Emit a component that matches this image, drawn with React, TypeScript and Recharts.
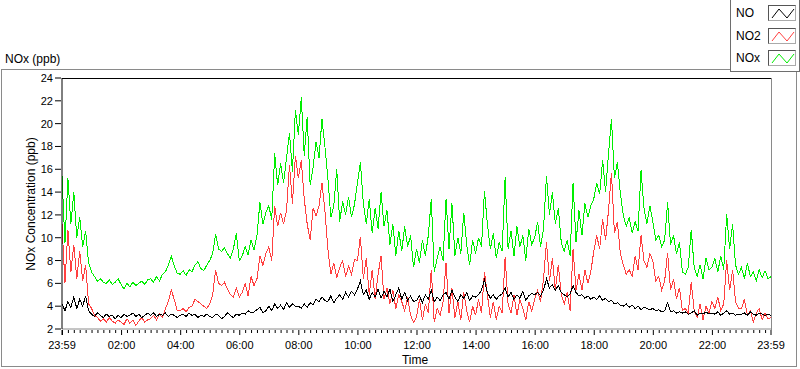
import { LineChart, Line, XAxis, YAxis } from 'recharts';

// minutes after 23:59, one reading every 6 minutes
const minutes = Array.from({ length: 241 }, (_, i) => i * 6);

const noxValues = [
  15.4, 9.5, 15.2, 11.2, 14.0, 10.0, 11.8, 9.2, 10.6, 7.8,
  7.0, 6.6, 6.2, 6.4, 6.1, 6.0, 6.3, 5.9, 6.1, 6.4,
  5.9, 5.5, 6.0, 5.7, 6.1, 5.8, 6.0, 6.2, 5.9, 6.3,
  6.4, 6.1, 6.6, 6.2, 6.8, 7.0, 7.6, 8.4, 7.5, 6.9,
  6.8, 7.1, 6.7, 7.2, 7.0, 7.6, 7.9, 7.3, 7.1, 7.6,
  8.0, 8.6, 10.3, 9.0, 8.8, 9.1, 8.6, 8.2, 9.0, 10.4,
  8.0, 8.4, 9.2, 8.5, 9.8, 8.9, 10.2, 13.1, 11.2, 12.2,
  12.8, 11.6, 17.4, 14.6, 16.5, 14.8, 17.0, 19.2, 15.8, 21.2,
  19.0, 22.3, 17.2, 20.6, 14.6, 16.2, 18.4, 17.0, 20.4, 18.0,
  15.2, 11.8, 12.8, 16.0, 11.4, 13.2, 12.0, 13.6, 11.8, 12.9,
  14.8, 16.6, 13.0, 11.2, 13.4, 10.4, 12.6, 10.8, 14.0, 11.0,
  12.4, 9.4, 11.2, 8.4, 10.6, 8.8, 11.0, 9.2, 10.2, 7.4,
  9.0, 7.8, 9.8, 8.4, 10.2, 13.4, 7.0, 8.2, 9.2, 8.0,
  13.4, 9.0, 13.0, 8.4, 10.0, 8.6, 12.2, 9.4, 7.6, 9.8,
  8.6, 10.0, 9.2, 14.1, 11.2, 9.0, 10.4, 8.2, 9.6, 8.8,
  15.3, 9.0, 10.6, 8.4, 11.0, 9.2, 10.2, 8.0, 10.8, 9.4,
  10.0, 11.4, 9.2, 10.8, 15.4, 12.0, 14.0, 11.2, 12.6, 9.6,
  8.8, 9.8, 8.4, 14.8, 9.6, 12.4, 10.2, 13.0, 11.8, 12.8,
  13.4, 14.8, 13.8, 16.8, 14.0, 17.4, 20.4, 15.2, 16.6, 13.9,
  12.0, 11.0, 11.8, 10.4, 11.4, 10.6, 15.9, 12.6, 11.2, 12.8,
  11.4, 9.8, 10.2, 9.2, 9.8, 13.1, 9.4, 10.2, 8.6, 9.6,
  7.0, 6.8, 7.4, 10.7, 7.4, 6.6, 7.6, 6.4, 8.2, 7.2,
  7.4, 8.2, 7.0, 8.4, 7.2, 12.1, 9.0, 11.2, 7.6, 6.8,
  7.4, 6.4, 7.8, 6.6, 7.0, 6.2, 7.2, 6.5, 7.1, 6.4,
  6.6,
];

const no2Values = [
  11.2, 6.0, 10.7, 7.0, 9.4, 6.4, 8.8, 6.2, 7.6, 4.2,
  3.8, 3.2, 3.0, 2.7, 2.9, 2.6, 3.0, 2.7, 2.5, 2.8,
  2.6, 2.4, 2.9, 2.5, 2.8, 2.3, 2.7, 3.0, 2.6, 2.8,
  2.9, 3.2, 2.8, 3.3, 3.0, 3.8, 4.4, 5.4, 4.6, 3.6,
  3.6, 3.8, 3.5, 3.9, 4.0, 4.6, 4.4, 4.2, 4.0, 3.8,
  4.2, 5.0, 7.2, 6.0, 5.8, 6.1, 5.5, 5.0, 4.8, 5.6,
  4.8, 5.2, 6.0, 4.9, 6.6, 5.8, 6.4, 8.4, 7.6, 8.6,
  9.2, 8.0, 12.8, 11.0, 12.2, 11.2, 12.4, 16.4, 13.0, 17.2,
  15.2, 16.8, 13.4, 11.2, 9.8, 12.6, 11.9, 12.8, 14.8, 12.4,
  9.0, 6.8, 7.8, 6.5, 7.4, 8.0, 6.6, 7.5, 6.8, 8.1,
  8.0, 10.1, 6.4, 8.2, 5.0, 7.2, 4.6, 6.8, 8.4, 4.6,
  5.6, 4.2, 5.4, 3.8, 5.0, 4.4, 3.6, 4.8, 3.2, 2.6,
  3.0, 4.6, 2.8, 4.2, 3.4, 7.2, 2.6, 3.8, 3.2, 4.4,
  7.8, 3.4, 5.6, 3.0, 4.4, 2.8, 5.2, 3.6, 2.6, 4.0,
  3.2, 4.6, 3.4, 7.0, 5.0, 3.0, 4.4, 2.8, 4.0, 3.4,
  8.3, 4.2, 3.4, 5.0, 3.2, 4.6, 3.8, 2.8, 4.4, 3.6,
  4.6, 5.4, 4.4, 6.4, 9.6, 6.2, 8.2, 5.4, 7.6, 5.0,
  4.2, 5.2, 3.6, 9.0, 5.4, 6.8, 5.4, 7.2, 6.0, 7.0,
  8.8, 10.2, 9.0, 11.6, 9.8, 12.4, 15.7, 10.4, 11.4, 8.6,
  7.6, 6.8, 7.2, 6.6, 8.4, 7.2, 10.2, 8.0, 7.4, 8.6,
  8.0, 6.2, 6.6, 5.4, 6.2, 8.7, 5.4, 6.4, 4.6, 5.6,
  3.6, 3.8, 3.4, 6.1, 3.6, 3.0, 4.2, 2.8, 4.0, 3.4,
  4.4, 3.8, 4.8, 3.6, 4.2, 8.0, 5.4, 7.2, 4.4, 3.8,
  3.8, 4.6, 3.2, 3.6, 2.6, 3.4, 3.8, 2.8, 3.4, 2.9,
  3.0,
];

const noValues = [
  4.2, 3.6, 4.4, 3.9, 4.8, 3.8, 4.6, 4.0, 4.9, 3.6,
  3.3, 3.1, 3.4, 3.2, 3.0, 3.3, 3.1, 3.2, 2.9, 3.2,
  3.0, 3.3, 3.1, 3.2, 3.4, 3.1, 3.3, 3.0, 3.2, 3.4,
  3.2, 3.4, 3.1, 3.3, 3.2, 3.4, 3.1, 3.3, 3.2, 3.0,
  3.2, 3.3, 3.1, 3.4, 3.2, 3.3, 3.0, 3.2, 3.1, 3.3,
  3.1, 3.0, 3.3, 3.2, 2.9, 3.1, 3.4, 3.2, 3.0, 3.3,
  3.2, 3.4, 3.3, 3.6, 3.4, 3.5, 3.7, 3.9, 3.4, 3.6,
  4.0, 3.6, 4.2, 3.8, 4.1, 3.7, 4.3, 3.9, 4.2, 4.0,
  4.0, 3.8, 4.2, 3.9, 4.3, 4.1, 4.6, 4.4, 4.8, 4.5,
  4.4, 4.9, 4.3, 4.7, 5.0, 4.6, 5.2, 4.8, 5.3, 5.0,
  5.5, 6.2, 5.0, 5.4, 4.6, 5.2, 4.8, 5.5, 4.7, 5.3,
  4.8, 5.5, 4.4, 5.0, 5.6, 4.6, 5.2, 4.5, 4.9, 4.4,
  4.5, 4.9, 4.3, 5.0, 4.6, 5.4, 4.4, 4.8, 4.5, 5.0,
  5.2, 4.6, 5.4, 4.8, 4.4, 5.0, 4.7, 5.2, 4.5, 4.9,
  4.8, 5.0, 5.4, 6.3, 5.2, 4.7, 5.0, 4.6, 4.9, 5.1,
  5.6, 4.8, 5.2, 4.6, 5.0, 4.7, 5.3, 4.5, 4.9, 5.1,
  5.0, 5.2, 4.9, 5.4, 6.4, 5.6, 5.9, 5.4, 5.8, 5.2,
  5.0, 4.8, 5.1, 5.8, 5.2, 4.9, 5.0, 4.7, 4.9, 4.6,
  4.8, 4.6, 4.9, 4.5, 4.7, 4.4, 4.5, 4.2, 4.3, 4.1,
  4.0, 4.2, 3.9, 4.1, 3.8, 4.0, 3.7, 3.9, 3.8, 3.7,
  3.8, 3.6, 3.7, 3.5, 3.6, 4.3, 3.5, 3.6, 3.4, 3.5,
  3.4, 3.5, 3.3, 3.4, 3.6, 3.2, 3.4, 3.3, 3.5, 3.3,
  3.4, 3.3, 3.5, 3.2, 3.4, 3.6, 3.3, 3.4, 3.2, 3.3,
  3.3, 3.4, 3.2, 3.5, 3.3, 3.2, 3.4, 3.3, 3.2, 3.3,
  3.2,
];

const yTicks = [2, 4, 6, 8, 10, 12, 14, 16, 18, 20, 22, 24];
// labelled ticks every 2 h, small ticks every 12 min
const majorLabels: Record<number, string> = {
  0: '23:59', 121: '02:00', 241: '04:00', 361: '06:00', 481: '08:00', 601: '10:00',
  721: '12:00', 841: '14:00', 961: '16:00', 1081: '18:00', 1201: '20:00',
  1321: '22:00', 1440: '23:59',
};
const xTicks = [0, ...Array.from({ length: 120 }, (_, n) => 1 + n * 12), 1440];

const data = minutes.map((t, i) => ({
  t,
  nox: noxValues[i],
  no2: no2Values[i],
  no: noValues[i],
}));

const FONT = '"Liberation Sans", Arial, sans-serif';

function XTick(props: any) {
  const { x, y, payload } = props;
  const label = majorLabels[payload.value];
  const major = label !== undefined || payload.value === 1;
  return (
    <g>
      <line x1={x} x2={x} y1={y + 1} y2={y + (major ? 6 : 4)} stroke="#000" />
      {label !== undefined && (
        <text x={x} y={y + 20} textAnchor="middle" fontSize={11} fill="#000" fontFamily={FONT}>
          {label}
        </text>
      )}
    </g>
  );
}

function YTick(props: any) {
  const { x, y, payload } = props;
  return (
    <g>
      <line x1={x - 7} x2={x - 1} y1={y} y2={y} stroke="#000" />
      <text x={x - 9} y={y + 4} textAnchor="end" fontSize={11} fill="#000" fontFamily={FONT}>
        {payload.value}
      </text>
    </g>
  );
}

function Swatch({ color }: { color: string }) {
  return (
    <svg width={28} height={16} style={{ display: 'block', borderTop: '1px solid #555', borderLeft: '1px solid #555', borderRight: '1px solid #aaa', borderBottom: '1px solid #aaa', boxSizing: 'border-box' }}>
      <polyline points="3,12 10,3 18,12 25,3" fill="none" stroke={color} strokeWidth={1} />
    </svg>
  );
}

const legendItems = [
  { name: 'NO', color: '#000000', top: 5 },
  { name: 'NO2', color: '#ff4040', top: 28 },
  { name: 'NOx', color: '#00ee00', top: 50 },
];

const crisp = { shapeRendering: 'crispEdges' as const };

export default function App() {
  return (
    <div style={{ position: 'absolute', left: 0, top: 0, width: 800, height: 369, background: '#fff', fontFamily: FONT, overflow: 'hidden' }}>
      <div style={{ position: 'absolute', left: 5, top: 52, fontSize: 12, color: '#000' }}>NOx (ppb)</div>

      {/* panel frame */}
      <div style={{ position: 'absolute', left: 1, top: 69, width: 796, height: 298, border: '1px solid #8a8a8a', boxSizing: 'border-box' }} />

      <div style={{ position: 'absolute', left: 0, top: 0 }}>
        <LineChart width={800} height={369} data={data} margin={{ top: 78, right: 29, bottom: 0, left: 0 }}>
          <XAxis
            dataKey="t"
            type="number"
            domain={[0, 1440]}
            ticks={xTicks}
            interval={0}
            tickSize={0}
            tickMargin={0}
            tickLine={false}
            tick={<XTick />}
            height={40}
            axisLine={{ stroke: '#8a8a8a' }}
            label={{
              content: () => (
                <text x={415} y={364} textAnchor="middle" fontSize={12} fill="#000" fontFamily={FONT}>
                  Time
                </text>
              ),
            }}
          />
          <YAxis
            type="number"
            domain={[2, 24]}
            ticks={yTicks}
            interval={0}
            tickSize={0}
            tickMargin={0}
            tickLine={false}
            tick={<YTick />}
            width={62}
            axisLine={{ stroke: '#000' }}
            label={{
              content: () => (
                <text x={35} y={204} transform="rotate(-90 35 204)" textAnchor="middle" fontSize={12} fill="#000" fontFamily={FONT}>
                  NOx Concentration (ppb)
                </text>
              ),
            }}
          />
          <Line type="linear" dataKey="nox" stroke="#00ee00" strokeWidth={1} dot={false} isAnimationActive={false} style={crisp} />
          <Line type="linear" dataKey="no2" stroke="#ff4040" strokeWidth={1} dot={false} isAnimationActive={false} style={crisp} />
          <Line type="linear" dataKey="no" stroke="#000000" strokeWidth={1} dot={false} isAnimationActive={false} style={crisp} />
        </LineChart>
      </div>

      {/* plot frame: top black, right grey */}
      <div style={{ position: 'absolute', left: 62, top: 78, width: 709, height: 1, background: '#000' }} />
      <div style={{ position: 'absolute', left: 771, top: 78, width: 1, height: 252, background: '#8a8a8a' }} />

      {/* legend */}
      <div style={{ position: 'absolute', left: 730, top: -1, width: 70, height: 73, border: '1px solid #6e6e6e', boxSizing: 'border-box', background: '#fff' }}>
        {legendItems.map((it) => (
          <div key={it.name} style={{ position: 'absolute', left: 5, top: it.top, width: 64, height: 16, display: 'flex', alignItems: 'center' }}>
            <span style={{ fontSize: 12, color: '#000', width: 32 }}>{it.name}</span>
            <Swatch color={it.color} />
          </div>
        ))}
      </div>
    </div>
  );
}
